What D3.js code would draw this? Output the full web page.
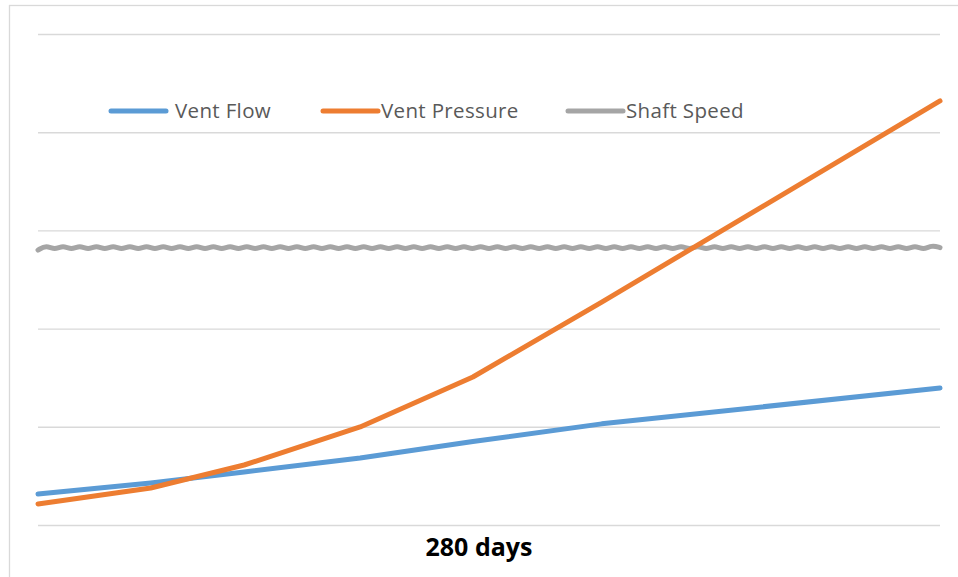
<!DOCTYPE html>
<html>
<head>
<meta charset="utf-8">
<script src="https://cdn.jsdelivr.net/npm/d3@7"></script>
<style>
  html, body { margin: 0; padding: 0; background: #fff; }
  svg { display: block; }
</style>
</head>
<body>
<svg id="chart" width="958" height="577"></svg>
<script>
// ---- data ----
const days = [0, 35, 64, 100, 135, 175, 280];
const ventFlow = [0.316, 0.428, 0.54, 0.682, 0.85, 1.03, 1.395];
const ventPressure = [0.214, 0.377, 0.611, 0.998, 1.507, 2.27, 4.318];
const shaftSpeed = [
  2.80, 2.85, 2.80, 2.85, 2.80, 2.85, 2.80, 2.85, 2.80, 2.85,
  2.80, 2.85, 2.80, 2.85, 2.80, 2.85, 2.80, 2.85, 2.80, 2.85,
  2.80, 2.85, 2.80, 2.85, 2.80, 2.85, 2.80, 2.85, 2.80, 2.85,
  2.80, 2.85, 2.80, 2.85, 2.80, 2.85, 2.80, 2.85, 2.80, 2.85,
  2.80, 2.85, 2.80, 2.85, 2.80, 2.85, 2.80, 2.85, 2.80, 2.85,
  2.80, 2.85, 2.80, 2.85, 2.80, 2.85, 2.80, 2.85, 2.80, 2.85,
  2.80, 2.85, 2.80, 2.85, 2.80, 2.85, 2.80, 2.85, 2.80, 2.85,
  2.80, 2.85, 2.80, 2.85, 2.80, 2.85, 2.80, 2.85, 2.80, 2.85,
  2.80, 2.85, 2.80, 2.85, 2.80, 2.85, 2.80, 2.85, 2.80, 2.85,
  2.80, 2.85, 2.80, 2.85, 2.80, 2.85, 2.80, 2.85, 2.80, 2.85,
  2.80, 2.85, 2.80, 2.85, 2.80, 2.85, 2.80, 2.85, 2.825
];
const gridTicks = [0, 1, 2, 3, 4, 5];
const seriesNames = ["Vent Flow", "Vent Pressure", "Shaft Speed"];
const xTitle = "280 days";
const colors = ["#5B9BD5", "#ED7D31", "#A5A5A5"];

// ---- layout ----
const svg = d3.select("#chart");
const mLeft = 38, mRight = 940, mTop = 34, mBottom = 525;

const x = d3.scaleLinear().domain([0, 280]).range([mLeft, mRight]);
const y = d3.scaleLinear().domain([0, 5]).range([mBottom, mTop]);

// chart border
svg.append("rect")
  .attr("x", 9.5).attr("y", 5.5)
  .attr("width", 960).attr("height", 600)
  .attr("fill", "none").attr("stroke", "#D9D9D9").attr("stroke-width", 1.3);

// gridlines
const gridAxis = d3.axisLeft(y).tickValues(gridTicks).tickSize(-(mRight - mLeft)).tickFormat("");
const g = svg.append("g").attr("transform", `translate(${mLeft},0)`).call(gridAxis);
g.select(".domain").remove();
g.selectAll(".tick line").attr("stroke", "#D9D9D9").attr("stroke-width", 1.4);

const shaftDays = shaftSpeed.map((_, i) => i * 280 / (shaftSpeed.length - 1));

const line = d3.line().x(d => x(d[0])).y(d => y(d[1]));

svg.append("path")
  .datum(shaftDays.map((d, i) => [d, shaftSpeed[i]]))
  .attr("d", d3.line().x(d => x(d[0])).y(d => y(d[1])).curve(d3.curveBasis))
  .attr("fill", "none").attr("stroke", colors[2]).attr("stroke-width", 5)
  .attr("stroke-linecap", "round").attr("stroke-linejoin", "round");

[ventFlow, ventPressure].forEach((vals, k) => {
  svg.append("path")
    .datum(days.map((d, i) => [d, vals[i]]))
    .attr("d", line)
    .attr("fill", "none").attr("stroke", colors[k]).attr("stroke-width", 5)
    .attr("stroke-linecap", "round").attr("stroke-linejoin", "round");
});

// legend
const legendItems = [
  { x1: 111, x2: 166, tx: 175 },
  { x1: 323, x2: 378, tx: 381 },
  { x1: 568, x2: 623, tx: 626 }
];
const legend = svg.append("g");
legendItems.forEach((it, i) => {
  legend.append("line")
    .attr("x1", it.x1).attr("x2", it.x2).attr("y1", 111).attr("y2", 111)
    .attr("stroke", colors[i]).attr("stroke-width", 5).attr("stroke-linecap", "round");
  legend.append("text")
    .attr("x", it.tx).attr("y", 117.5)
    .attr("font-family", "'Open Sans', sans-serif").attr("font-size", 20.5)
    .attr("letter-spacing", 0.35)
    .attr("fill", "#595959").text(seriesNames[i]);
});

// x-axis title
svg.append("text")
  .attr("x", 479).attr("y", 556).attr("text-anchor", "middle")
  .attr("font-family", "'Open Sans', sans-serif").attr("font-weight", "bold")
  .attr("font-size", 25).attr("fill", "#000").text(xTitle);
</script>
</body>
</html>
